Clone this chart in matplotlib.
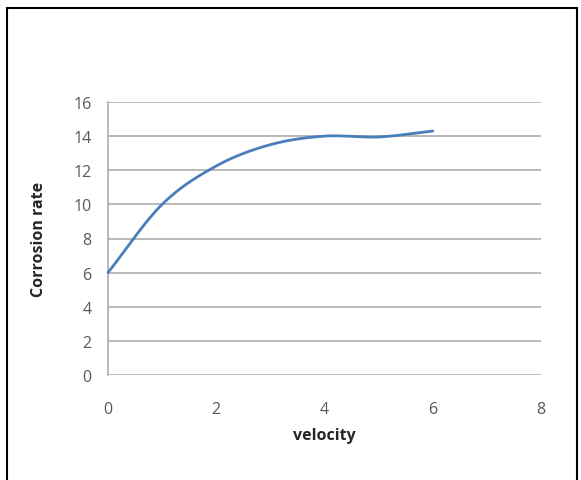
import numpy as np
import matplotlib
matplotlib.use("Agg")
import matplotlib.pyplot as plt
from matplotlib.patches import Rectangle

velocity = [0, 1, 2, 3, 4, 5, 6]
corrosion_rate = [6.0, 10.0, 12.25, 13.5, 14.0, 13.95, 14.3]
x_ticks = [0, 2, 4, 6, 8]
y_ticks = [0, 2, 4, 6, 8, 10, 12, 14, 16]


def smooth(xs, ys, n=30):
    # Catmull-Rom style smoothing like a spreadsheet "smoothed line"
    pts = np.column_stack([np.asarray(xs, float), np.asarray(ys, float)])
    first = 2 * pts[0] - pts[1]
    last = 2 * pts[-1] - pts[-2]
    P = np.vstack([first, pts, last])
    out = []
    for i in range(1, len(P) - 2):
        p0, p1, p2, p3 = P[i - 1], P[i], P[i + 1], P[i + 2]
        c1 = p1 + (p2 - p0) / 6
        c2 = p2 - (p3 - p1) / 6
        t = np.linspace(0, 1, n)[:, None]
        b = ((1 - t) ** 3) * p1 + 3 * ((1 - t) ** 2) * t * c1 + 3 * (1 - t) * t ** 2 * c2 + t ** 3 * p2
        out.append(b)
    out = np.vstack(out)
    return out[:, 0], out[:, 1]


plt.rcParams['font.family'] = ['Open Sans', 'DejaVu Sans']
fig = plt.figure(figsize=(5.81, 4.81), dpi=100)
ax = fig.add_axes([108 / 581, 1 - 376 / 481, (541 - 108) / 581, (376 - 103) / 481])

sx, sy = smooth(velocity, corrosion_rate)
ax.plot(sx, sy, color='#4a7ebb', lw=2.0, solid_capstyle='round', zorder=3, clip_on=False)

ax.set_xlim(0, 8)
ax.set_ylim(0, 16)
ax.set_xticks(x_ticks)
ax.set_yticks(y_ticks)
ax.grid(axis='y', color='#a6a6a6', lw=1.1)
ax.set_axisbelow(True)
for s in ['top', 'right', 'bottom']:
    ax.spines[s].set_visible(False)
ax.spines['left'].set_color('#a6a6a6')
ax.spines['left'].set_linewidth(1.1)
ax.tick_params(axis='both', length=0, colors='#595959', labelsize=11.5)
ax.tick_params(axis='x', pad=19)
ax.tick_params(axis='y', pad=12)
ax.set_xlabel('velocity', fontsize=11.5, fontweight='bold', color='#262626')
ax.set_ylabel('Corrosion rate', fontsize=11.5, fontweight='bold', color='#262626')
ax.xaxis.set_label_coords(0.5, -0.19)
ax.yaxis.set_label_coords(-0.14, 0.5)

fig.patches.append(Rectangle((7, -10), 570, 481 - 9 + 10, transform=None, fill=False,
                             edgecolor='black', lw=1.5))
fig.savefig('out.png', dpi=100)
